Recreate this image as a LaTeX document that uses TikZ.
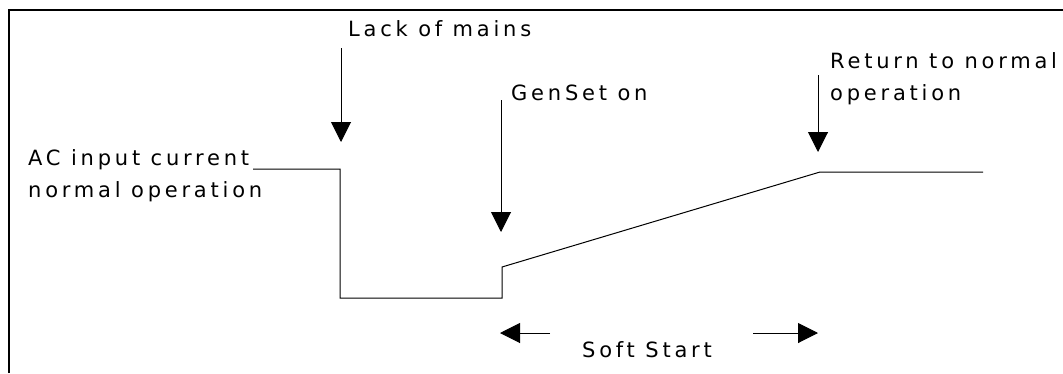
\documentclass[tikz,border=0pt]{standalone}
\usepackage{fontspec}
\setmainfont{DejaVu Sans}[LetterSpace=18]
\usetikzlibrary{arrows.meta}
\tikzset{
  lbl/.style={anchor=base west, inner sep=0pt, font=\fontsize{21}{32}\selectfont, align=left},
  ln/.style={line width=1pt, black},
  pointer/.style={line width=1pt, -{Triangle[width=20pt,length=20pt]}},
  frameline/.style={line width=2pt}
}
\begin{document}
\begin{tikzpicture}[x=1pt,y=-1pt]
\useasboundingbox (0,0) rectangle (1063,373);
% frame (top and left edges visible)
\coordinate (fa) at (9,373);
\coordinate (fb) at (9,9.5);
\coordinate (fc) at (1063,9.5);
\draw[frameline] (fa) -- (fb) -- (fc);

% labels (multi-line nodes are anchored on the baseline of their last line)
\node[lbl] (lack) at (348,36) {Lack of mains};
\node[lbl] (gen) at (511,100) {GenSet on};
\node[lbl] (ret) at (830,100) {Return to normal\\operation};
\node[lbl] (ac) at (28,197) {AC input current\\normal operation};
\node[lbl] (soft) at (582,357) {Soft Start};

% current curve
\coordinate (c0) at (253,169);
\coordinate (c1) at (340,169);
\coordinate (c2) at (340,298);
\coordinate (c3) at (502,298);
\coordinate (c4) at (502,267);
\coordinate (c5) at (820,172);
\coordinate (c6) at (983,172);
\draw[ln] (c0) -- (c1) -- (c2) -- (c3) -- (c4) -- (c5) -- (c6);

% event arrows
\coordinate (a1s) at (341,48);
\coordinate (a1e) at (341,142);
\draw[pointer] (a1s) -- (a1e);
\coordinate (a2s) at (501,100);
\coordinate (a2e) at (501,232);
\draw[pointer] (a2s) -- (a2e);
\coordinate (a3s) at (818,75);
\coordinate (a3e) at (818,152);
\draw[pointer] (a3s) -- (a3e);

% soft start arrows
\coordinate (s1s) at (550,333);
\coordinate (s1e) at (500,333);
\draw[pointer] (s1s) -- (s1e);
\coordinate (s2s) at (753,333);
\coordinate (s2e) at (818,333);
\draw[pointer] (s2s) -- (s2e);
\end{tikzpicture}
\end{document}
